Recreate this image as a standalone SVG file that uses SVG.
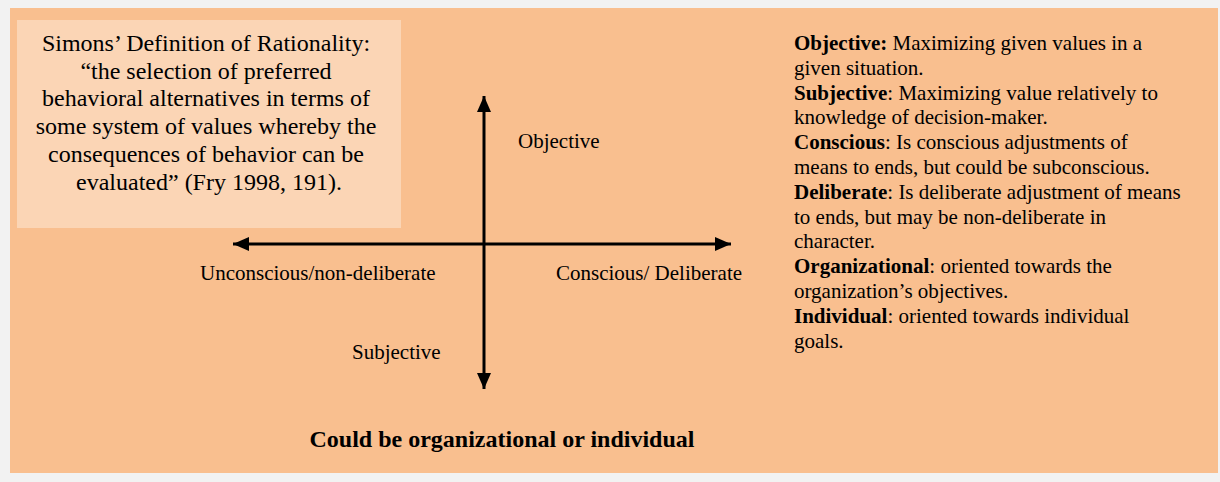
<svg xmlns="http://www.w3.org/2000/svg" width="1220" height="482" viewBox="0 0 1220 482">
<style>
.t{font-family:"Liberation Serif","Times New Roman",serif;fill:#000}
.ax{font-size:21px}
.rt{font-size:21px}
.bx{font-size:24px}
.b{font-weight:bold}
.conn{stroke:#000;stroke-width:3;fill:none}
</style>
<defs>
<marker id="ah" markerUnits="userSpaceOnUse" markerWidth="16" markerHeight="14" refX="16" refY="7" orient="auto">
<path d="M0,0 L16,7 L0,14 Z" fill="#000"/>
</marker>
</defs>
<rect x="0" y="0" width="1220" height="482" fill="#f2f2f2"/>
<rect x="10" y="8" width="1208" height="465" fill="#f9bf8f"/>
<g id="definition">
<rect x="17" y="20" width="384" height="208" fill="#fbd5b5"/>
<text class="t bx" text-anchor="middle">
<tspan x="209" y="51">Simons’ Definition of Rationality:</tspan>
<tspan x="209" y="78.7">“the selection of preferred</tspan>
<tspan x="209" y="106.4">behavioral alternatives in terms of</tspan>
<tspan x="209" y="134.1">some system of values whereby the</tspan>
<tspan x="209" y="161.8">consequences of behavior can be</tspan>
<tspan x="209" y="189.5">evaluated” (Fry 1998, 191).</tspan>
</text>
</g>
<g id="connectors">
<line class="conn" x1="484" y1="244" x2="484" y2="96" marker-end="url(#ah)"/>
<line class="conn" x1="484" y1="244" x2="484" y2="389" marker-end="url(#ah)"/>
<line class="conn" x1="484" y1="244" x2="233" y2="244" marker-end="url(#ah)"/>
<line class="conn" x1="484" y1="244" x2="731" y2="244" marker-end="url(#ah)"/>
</g>
<g id="label-objective"><text class="t ax" x="518" y="148">Objective</text></g>
<g id="label-subjective"><text class="t ax" x="352" y="359">Subjective</text></g>
<g id="label-unconscious"><text class="t ax" x="200" y="280">Unconscious/non-deliberate</text></g>
<g id="label-conscious"><text class="t ax" x="556" y="280">Conscious/ Deliberate</text></g>
<g id="legend">
<text class="t rt">
<tspan x="794" y="50"><tspan class="b">Objective:</tspan> Maximizing given values in a</tspan>
<tspan x="794" y="74.8">given situation.</tspan>
<tspan x="794" y="99.6"><tspan class="b">Subjective</tspan>: Maximizing value relatively to</tspan>
<tspan x="794" y="124.4">knowledge of decision-maker.</tspan>
<tspan x="794" y="149.2"><tspan class="b">Conscious</tspan>: Is conscious adjustments of</tspan>
<tspan x="794" y="174">means to ends, but could be subconscious.</tspan>
<tspan x="794" y="198.8"><tspan class="b">Deliberate</tspan>: Is deliberate adjustment of means</tspan>
<tspan x="794" y="223.6">to ends, but may be non-deliberate in</tspan>
<tspan x="794" y="248.4">character.</tspan>
<tspan x="794" y="273.2"><tspan class="b">Organizational</tspan>: oriented towards the</tspan>
<tspan x="794" y="298">organization’s objectives.</tspan>
<tspan x="794" y="322.8"><tspan class="b">Individual</tspan>: oriented towards individual</tspan>
<tspan x="794" y="347.6">goals.</tspan>
</text>
</g>
<g id="footer"><text class="t b" font-size="24" x="502" y="447" text-anchor="middle">Could be organizational or individual</text></g>
</svg>
